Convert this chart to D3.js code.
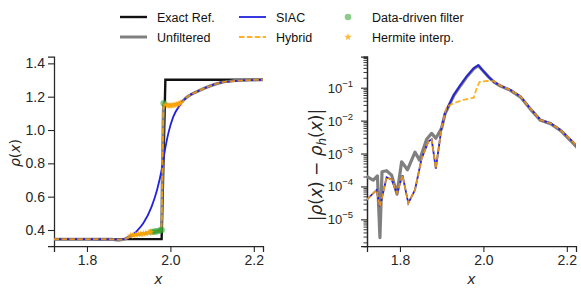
<!DOCTYPE html>
<html>
<head>
<meta charset="utf-8">
<script src="https://cdn.jsdelivr.net/npm/d3@7"></script>
<style>
  body { margin: 0; background: #fff; }
  text { font-family: "Liberation Sans", Arial, sans-serif; }
</style>
</head>
<body>
<div id="chart"></div>
<script>
// ---- left panel: density near the shock
var exactX = [1.72, 1.979, 1.988, 2.225];
var exactRho = [0.345, 0.345, 1.302, 1.302];

var unfX = [1.72, 1.80, 1.86, 1.875, 1.89, 1.905, 1.915, 1.93, 1.945, 1.958, 1.97, 1.978, 1.984, 1.992, 2.0, 2.012, 2.025, 2.04, 2.065, 2.095, 2.12, 2.15, 2.19, 2.225];
var unfRho = [0.345, 0.345, 0.344, 0.339, 0.345, 0.366, 0.372, 0.376, 0.382, 0.388, 0.393, 0.40, 1.162, 1.152, 1.15, 1.154, 1.165, 1.198, 1.232, 1.264, 1.284, 1.295, 1.30, 1.301];

var siacX = [1.72, 1.80, 1.86, 1.879, 1.893, 1.905, 1.92, 1.935, 1.955, 1.968, 1.979, 1.987, 1.995, 2.007, 2.023, 2.039, 2.063, 2.095, 2.119, 2.15, 2.19, 2.225];
var siacRho = [0.345, 0.345, 0.344, 0.344, 0.348, 0.362, 0.395, 0.44, 0.54, 0.64, 0.76, 0.88, 0.98, 1.08, 1.15, 1.196, 1.23, 1.264, 1.284, 1.294, 1.30, 1.301];

var hybX = [1.72, 1.80, 1.86, 1.879, 1.895, 1.905, 1.915, 1.93, 1.945, 1.958, 1.97, 1.978, 1.984, 1.992, 2.0, 2.012, 2.025, 2.039, 2.063, 2.095, 2.119, 2.15, 2.19, 2.225];
var hybRho = [0.345, 0.345, 0.344, 0.343, 0.35, 0.365, 0.372, 0.375, 0.382, 0.388, 0.393, 0.40, 1.16, 1.15, 1.148, 1.152, 1.16, 1.196, 1.23, 1.264, 1.284, 1.294, 1.30, 1.301];

var filterX = [1.955, 1.962, 1.968, 1.975, 1.979, 1.984];
var filterRho = [0.388, 0.39, 0.392, 0.397, 0.40, 1.16];

var hermX = [1.905, 1.911, 1.917, 1.923, 1.929, 1.935, 1.941, 1.947, 1.953, 1.989, 1.994, 1.999, 2.004, 2.009, 2.014, 2.019, 2.024];
var hermRho = [0.366, 0.37, 0.373, 0.374, 0.376, 0.378, 0.381, 0.383, 0.386, 1.152, 1.148, 1.146, 1.148, 1.15, 1.152, 1.156, 1.16];

// ---- right panel: pointwise error
var errUnfX = [1.72, 1.736, 1.746, 1.752, 1.757, 1.768, 1.780, 1.793, 1.804, 1.818, 1.836, 1.847, 1.864, 1.876, 1.886, 1.900, 1.908, 1.929, 1.945, 1.961, 1.977, 1.988, 1.997, 2.013, 2.025, 2.041, 2.065, 2.089, 2.113, 2.137, 2.161, 2.186, 2.210, 2.225];
var errUnf = [2.0e-4, 1.55e-4, 2.1e-4, 2.8e-6, 2.8e-4, 3.0e-4, 2.2e-4, 5.9e-5, 5.6e-4, 3.2e-4, 1.1e-3, 6.3e-4, 2.7e-3, 4.1e-3, 2.9e-3, 5.9e-3, 1.6e-2, 5.8e-2, 0.115, 0.22, 0.38, 0.47, 0.35, 0.21, 0.15, 0.112, 0.083, 0.052, 0.022, 0.0102, 0.0081, 0.0049, 0.0024, 0.0015];

var errSiacX = [1.72, 1.744, 1.752, 1.768, 1.780, 1.793, 1.806, 1.820, 1.836, 1.852, 1.868, 1.876, 1.886, 1.900, 1.908, 1.929, 1.945, 1.961, 1.977, 1.988, 1.997, 2.013, 2.025, 2.041, 2.065, 2.089, 2.113, 2.137, 2.161, 2.186, 2.210, 2.225];
var errSiac = [3.9e-5, 7.8e-5, 2.4e-5, 1.9e-4, 1.6e-4, 6.2e-5, 2.2e-4, 3.1e-5, 7.8e-5, 7.1e-4, 2.3e-3, 2.7e-3, 3.5e-4, 6.5e-3, 1.7e-2, 6.0e-2, 0.12, 0.23, 0.39, 0.48, 0.35, 0.21, 0.15, 0.115, 0.085, 0.054, 0.023, 0.0105, 0.0083, 0.0051, 0.0026, 0.0017];

var errHybX = [1.72, 1.744, 1.752, 1.768, 1.780, 1.793, 1.806, 1.820, 1.836, 1.852, 1.868, 1.876, 1.886, 1.900, 1.908, 1.912, 1.929, 1.953, 1.977, 1.985, 1.991, 2.009, 2.025, 2.041, 2.065, 2.089, 2.113, 2.137, 2.161, 2.186, 2.210, 2.225];
var errHyb = [3.9e-5, 7.8e-5, 2.4e-5, 1.9e-4, 1.6e-4, 6.2e-5, 2.2e-4, 3.1e-5, 7.8e-5, 7.1e-4, 2.3e-3, 2.7e-3, 3.5e-4, 6.5e-3, 1.7e-2, 2.6e-2, 3.4e-2, 4.3e-2, 5.0e-2, 0.107, 0.15, 0.16, 0.158, 0.115, 0.085, 0.054, 0.023, 0.0105, 0.0083, 0.0051, 0.0026, 0.0017];

var xTicks = [1.8, 2.0, 2.2];
var rhoTicks = [0.4, 0.6, 0.8, 1.0, 1.2, 1.4];
var errTicks = [-5, -4, -3, -2, -1];

var W = 581, H = 293;
var ink = "#262626";
var cBlue = "#2222dd", cOrange = "#ffa500", cGray = "#808080";

var svg = d3.select("#chart").append("svg")
  .attr("width", W).attr("height", H);

function pairs(xs, ys) {
  return xs.map(function(d, i) { return [d, ys[i]]; });
}

// left axes
var xL = d3.scaleLinear().domain([1.721, 2.222]).range([54, 263]);
var yL = d3.scaleLinear().domain([0.304, 1.44]).range([246, 56.7]);
// right axes
var xR = d3.scaleLinear().domain([1.721, 2.222]).range([367, 576]);
var yR = d3.scaleLog().domain([Math.pow(10, -5.81), Math.pow(10, -0.058)]).range([246, 56.7]);

function styleAxis(g) {
  g.select(".domain").attr("stroke", ink).attr("stroke-width", 1.25);
  g.selectAll(".tick line").attr("stroke", ink).attr("stroke-width", 1.1);
  g.selectAll(".tick text").attr("fill", ink).style("font-size", "14px")
    .style("font-family", "'Liberation Sans', Arial, sans-serif");
}

// ---- left panel
var gl = svg.append("g");
gl.append("g").attr("transform", "translate(0,246)")
  .call(d3.axisBottom(xL).tickValues(xTicks).tickFormat(d3.format(".1f")).tickSizeOuter(0).tickSize(6).tickPadding(3))
  .call(styleAxis);
gl.append("g").attr("transform", "translate(54,0)")
  .call(d3.axisLeft(yL).tickValues(rhoTicks).tickFormat(d3.format(".1f")).tickSizeOuter(0).tickSize(6).tickPadding(3))
  .call(styleAxis);

var lineL = d3.line().x(function(d) { return xL(d[0]); }).y(function(d) { return yL(d[1]); });
var smoothL = d3.line().curve(d3.curveMonotoneX)
  .x(function(d) { return xL(d[0]); }).y(function(d) { return yL(d[1]); });
svg.append("clipPath").attr("id", "clipL").append("rect")
  .attr("x", 54).attr("y", 50).attr("width", 209).attr("height", 196);
var plotL = gl.append("g").attr("clip-path", "url(#clipL)");

plotL.append("path").attr("d", lineL(pairs(exactX, exactRho)))
  .attr("fill", "none").attr("stroke", "#111").attr("stroke-width", 2.4);
plotL.append("path").attr("d", smoothL(pairs(unfX, unfRho)))
  .attr("fill", "none").attr("stroke", cGray).attr("stroke-width", 3);
plotL.append("path").attr("d", smoothL(pairs(siacX, siacRho)))
  .attr("fill", "none").attr("stroke", cBlue).attr("stroke-width", 1.8);
plotL.append("path").attr("d", smoothL(pairs(hybX, hybRho)))
  .attr("fill", "none").attr("stroke", cOrange).attr("stroke-opacity", 0.85)
  .attr("stroke-width", 1.8).attr("stroke-dasharray", "5.5,2.4");

plotL.selectAll("circle.filt").data(pairs(filterX, filterRho)).enter()
  .append("circle").attr("class", "filt")
  .attr("cx", function(d) { return xL(d[0]); })
  .attr("cy", function(d) { return yL(d[1]); })
  .attr("r", 3.3).attr("fill", "#2ca02c").attr("fill-opacity", 0.55);

var star = d3.symbol().type(d3.symbolStar).size(18);
plotL.selectAll("path.herm").data(pairs(hermX, hermRho)).enter()
  .append("path").attr("class", "herm").attr("d", star)
  .attr("transform", function(d) { return "translate(" + xL(d[0]) + "," + yL(d[1]) + ")"; })
  .attr("fill", cOrange).attr("fill-opacity", 0.8);

gl.append("text").attr("x", (54 + 263) / 2).attr("y", 284).attr("text-anchor", "middle")
  .style("font-family", "'DejaVu Sans', sans-serif").style("font-style", "italic")
  .style("font-size", "14px").attr("fill", ink).text("x");
gl.append("text").attr("transform", "translate(20,153) rotate(-90)").attr("text-anchor", "middle")
  .style("font-family", "'DejaVu Sans', sans-serif").style("font-size", "14px").attr("fill", ink)
  .call(function(t) {
    t.append("tspan").style("font-style", "italic").text("ρ");
    t.append("tspan").text("(");
    t.append("tspan").style("font-style", "italic").text("x");
    t.append("tspan").text(")");
  });

// ---- right panel
var gr = svg.append("g");
gr.append("g").attr("transform", "translate(0,246)")
  .call(d3.axisBottom(xR).tickValues(xTicks).tickFormat(d3.format(".1f")).tickSizeOuter(0).tickSize(6).tickPadding(3))
  .call(styleAxis);

var minor = [];
for (var e = -6; e <= 0; e++) {
  for (var m = 2; m <= 9; m++) {
    var v = m * Math.pow(10, e);
    if (v >= yR.domain()[0] && v <= yR.domain()[1]) minor.push(v);
  }
}
gr.append("g").attr("transform", "translate(367,0)")
  .call(d3.axisLeft(yR).tickValues(minor).tickFormat("").tickSizeOuter(0).tickSize(3.5))
  .call(styleAxis)
  .call(function(g) { g.selectAll(".tick line").attr("stroke-width", 0.9); });
gr.append("g").attr("transform", "translate(367,0)")
  .call(d3.axisLeft(yR).tickValues(errTicks.map(function(k) { return Math.pow(10, k); }))
    .tickFormat("").tickSizeOuter(0).tickSize(6))
  .call(styleAxis);

errTicks.forEach(function(k) {
  var t = gr.append("text").attr("x", 353).attr("y", yR(Math.pow(10, k)) + 5)
    .attr("text-anchor", "end").attr("fill", ink).style("font-size", "13px");
  t.append("tspan").text("10");
  t.append("tspan").attr("dy", -6).style("font-size", "9.5px").text("\u2212" + (-k));
});

var lineR = d3.line().x(function(d) { return xR(d[0]); }).y(function(d) { return yR(d[1]); });
svg.append("clipPath").attr("id", "clipR").append("rect")
  .attr("x", 367).attr("y", 50).attr("width", 209).attr("height", 196);
var plotR = gr.append("g").attr("clip-path", "url(#clipR)");

plotR.append("path").attr("d", lineR(pairs(errUnfX, errUnf)))
  .attr("fill", "none").attr("stroke", cGray).attr("stroke-width", 3.2).attr("stroke-linejoin", "round");
plotR.append("path").attr("d", lineR(pairs(errSiacX, errSiac)))
  .attr("fill", "none").attr("stroke", cBlue).attr("stroke-width", 1.8);
plotR.append("path").attr("d", lineR(pairs(errHybX, errHyb)))
  .attr("fill", "none").attr("stroke", cOrange).attr("stroke-opacity", 0.85)
  .attr("stroke-width", 1.8).attr("stroke-dasharray", "5.5,2.4");

gr.append("text").attr("x", (367 + 576) / 2).attr("y", 284).attr("text-anchor", "middle")
  .style("font-family", "'DejaVu Sans', sans-serif").style("font-style", "italic")
  .style("font-size", "14px").attr("fill", ink).text("x");
gr.append("text").attr("transform", "translate(322,165) rotate(-90)").attr("text-anchor", "middle")
  .style("font-family", "'DejaVu Sans', sans-serif").style("font-size", "17px").attr("fill", ink)
  .call(function(t) {
    t.append("tspan").text("|");
    t.append("tspan").style("font-style", "italic").text("ρ");
    t.append("tspan").text("(");
    t.append("tspan").style("font-style", "italic").text("x");
    t.append("tspan").text(") \u2212 ");
    t.append("tspan").style("font-style", "italic").text("ρ");
    t.append("tspan").attr("dy", 3.5).style("font-size", "12px").style("font-style", "italic").text("h");
    t.append("tspan").attr("dy", -3.5).text("(");
    t.append("tspan").style("font-style", "italic").text("x");
    t.append("tspan").text(")|");
  });

// ---- legend
var legendItems = [
  { label: "Exact Ref.", kind: "line", color: "#111", w: 2.4, x: 120, y: 17 },
  { label: "Unfiltered", kind: "line", color: cGray, w: 3, x: 120, y: 37 },
  { label: "SIAC", kind: "line", color: cBlue, w: 1.8, x: 239, y: 17 },
  { label: "Hybrid", kind: "dash", color: cOrange, w: 1.8, x: 239, y: 37 },
  { label: "Data-driven filter", kind: "circle", color: "#2ca02c", x: 335, y: 17 },
  { label: "Hermite interp.", kind: "star", color: cOrange, x: 335, y: 37 }
];
var lg = svg.append("g");
legendItems.forEach(function(it) {
  if (it.kind == "line" || it.kind == "dash") {
    lg.append("line").attr("x1", it.x).attr("x2", it.x + 27).attr("y1", it.y).attr("y2", it.y)
      .attr("stroke", it.color).attr("stroke-width", it.w)
      .attr("stroke-opacity", it.kind == "dash" ? 0.85 : 1)
      .attr("stroke-dasharray", it.kind == "dash" ? "5.5,2.4" : null);
  } else if (it.kind == "circle") {
    lg.append("circle").attr("cx", it.x + 13).attr("cy", it.y).attr("r", 3.3)
      .attr("fill", it.color).attr("fill-opacity", 0.55);
  } else {
    lg.append("path").attr("d", star).attr("transform", "translate(" + (it.x + 13) + "," + it.y + ")")
      .attr("fill", it.color).attr("fill-opacity", 0.8);
  }
  lg.append("text").attr("x", it.x + 37).attr("y", it.y + 4.5)
    .attr("fill", "#111").style("font-size", "12.5px").text(it.label);
});
</script>
</body>
</html>
